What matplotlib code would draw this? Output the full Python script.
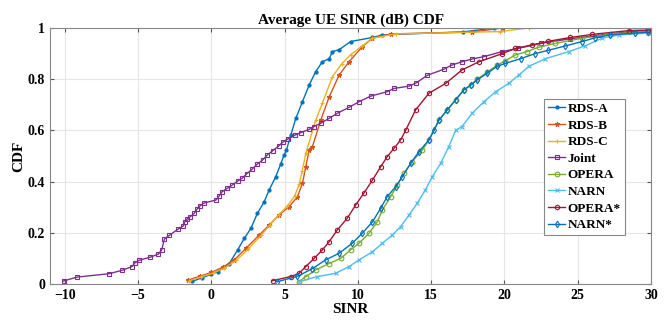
import matplotlib.pyplot as plt

# SINR (dB) / CDF points
rds_a_x = [-1.3, -0.6, 0.0, 0.43, 0.9, 1.23, 1.8, 2.25, 2.7, 3.15, 3.6, 3.95, 4.4, 4.75, 4.97,
           5.13, 5.43, 5.77, 6.22, 6.68, 7.13, 7.58, 8.04, 8.27, 8.72, 9.5, 11.0, 11.67, 17.2, 19.3]
rds_a_y = [0.01, 0.025, 0.038, 0.048, 0.065, 0.08, 0.133, 0.178, 0.217, 0.276, 0.32, 0.367, 0.419,
           0.47, 0.504, 0.523, 0.582, 0.647, 0.712, 0.777, 0.83, 0.868, 0.88, 0.908, 0.915, 0.947,
           0.963, 0.973, 0.985, 1.0]

rds_b_x = [-1.6, -0.8, 0.0, 0.77, 1.57, 2.36, 3.27, 3.95, 4.63, 5.31, 5.88, 6.22, 6.45, 6.68,
           6.9, 7.47, 8.04, 8.72, 9.4, 10.3, 11.0, 12.24, 17.8, 19.85]
rds_b_y = [0.015, 0.03, 0.045, 0.065, 0.094, 0.139, 0.191, 0.23, 0.27, 0.302, 0.341, 0.393,
           0.458, 0.523, 0.536, 0.64, 0.73, 0.816, 0.868, 0.927, 0.96, 0.977, 0.984, 1.0]

rds_c_x = [-1.5, -0.7, 0.1, 0.9, 1.7, 2.5, 3.4, 4.0, 4.6, 5.2, 5.7, 6.0, 6.2, 6.45, 7.13,
           7.58, 8.27, 8.9, 9.5, 10.3, 11.0, 12.58, 19.7, 21.66]
rds_c_y = [0.012, 0.028, 0.042, 0.062, 0.092, 0.135, 0.19, 0.23, 0.27, 0.305, 0.345, 0.39,
           0.44, 0.51, 0.64, 0.706, 0.81, 0.86, 0.895, 0.93, 0.96, 0.977, 0.986, 1.0]

joint_x = [-10.07, -9.15, -7.0, -6.1, -5.4, -5.2, -4.95, -4.15, -3.6, -3.38, -3.2, -2.86, -2.27,
           -1.9, -1.8, -1.63, -1.43, -1.16, -0.95, -0.77, -0.5, 0.32, 0.54, 0.73, 1.1, 1.45, 1.8,
           2.13, 2.43, 2.8, 3.15, 3.5, 3.83, 4.18, 4.6, 4.9, 5.27, 5.72, 6.1, 6.68, 7.0, 7.47,
           8.04, 8.6, 9.4, 10.08, 10.88, 12.0, 12.47, 13.5, 14.0, 14.73, 15.87, 16.4, 17.1, 17.8,
           18.6, 19.85, 20.9, 22.5, 24.5, 26.5, 28.5, 29.8]
joint_y = [0.012, 0.027, 0.04, 0.053, 0.068, 0.083, 0.092, 0.105, 0.117, 0.133, 0.175, 0.19,
           0.214, 0.227, 0.243, 0.255, 0.263, 0.276, 0.294, 0.305, 0.316, 0.328, 0.344, 0.36,
           0.374, 0.387, 0.402, 0.414, 0.431, 0.449, 0.469, 0.484, 0.504, 0.52, 0.539, 0.555,
           0.568, 0.582, 0.591, 0.604, 0.615, 0.628, 0.647, 0.667, 0.69, 0.712, 0.734, 0.751,
           0.764, 0.773, 0.786, 0.815, 0.839, 0.855, 0.868, 0.879, 0.888, 0.908, 0.92, 0.94,
           0.958, 0.972, 0.985, 0.99]

opera_x = [6.0, 6.45, 7.13, 8.04, 8.83, 9.5, 10.08, 10.76, 11.33, 11.67, 12.24, 12.7, 13.15,
           13.7, 14.4, 14.85, 15.53, 16.1, 16.67, 17.23, 17.7, 18.14, 18.82, 19.5, 20.07, 20.75,
           21.55, 22.34, 23.48, 25.3, 27.3, 29.8]
opera_y = [0.009, 0.029, 0.055, 0.08, 0.1, 0.133, 0.159, 0.198, 0.243, 0.289, 0.341, 0.387,
           0.432, 0.478, 0.523, 0.5625, 0.64, 0.68, 0.719, 0.758, 0.777, 0.8, 0.827, 0.855, 0.872,
           0.895, 0.908, 0.925, 0.94, 0.96, 0.977, 0.986]

narn_x = [6.0, 7.24, 8.5, 9.4, 10.08, 11.0, 11.67, 12.35, 12.92, 13.5, 14.05, 14.6, 15.08,
          15.65, 16.2, 16.67, 17.1, 17.8, 18.6, 19.4, 20.3, 20.98, 21.66, 22.8, 24.4, 25.5,
          26.65, 27.8, 29.8]
narn_y = [0.009, 0.029, 0.042, 0.068, 0.094, 0.126, 0.159, 0.191, 0.224, 0.27, 0.315, 0.367,
          0.419, 0.471, 0.536, 0.6, 0.615, 0.667, 0.712, 0.751, 0.784, 0.816, 0.85, 0.88, 0.908,
          0.93, 0.96, 0.973, 0.98]

opera_s_x = [4.18, 5.43, 6.0, 6.45, 7.02, 7.58, 8.04, 8.6, 9.28, 9.86, 10.4, 11.0, 11.56, 12.0,
             12.47, 12.92, 13.26, 13.94, 14.85, 16.0, 17.1, 18.26, 19.85, 20.75, 21.9, 23.0,
             24.5, 26.0, 28.5, 29.8]
opera_s_y = [0.013, 0.029, 0.042, 0.068, 0.1, 0.133, 0.165, 0.211, 0.257, 0.309, 0.354, 0.406,
             0.458, 0.497, 0.53, 0.5625, 0.6, 0.68, 0.745, 0.784, 0.836, 0.868, 0.9, 0.92,
             0.934, 0.948, 0.963, 0.975, 0.99, 0.992]

narn_s_x = [4.5, 5.88, 6.9, 7.8, 8.72, 9.62, 10.3, 11.0, 11.56, 12.0, 12.58, 13.03, 13.6, 14.17,
            14.85, 15.2, 15.53, 16.1, 16.67, 17.23, 17.7, 18.14, 18.82, 19.5, 20.07, 21.1, 22.1,
            23.0, 24.16, 25.3, 26.2, 27.2, 28.9, 29.8]
narn_s_y = [0.009, 0.03, 0.06, 0.094, 0.12, 0.159, 0.198, 0.243, 0.296, 0.341, 0.38, 0.419,
            0.471, 0.517, 0.5625, 0.6, 0.64, 0.68, 0.719, 0.758, 0.777, 0.797, 0.823, 0.85,
            0.862, 0.88, 0.9, 0.913, 0.93, 0.947, 0.962, 0.973, 0.98, 0.984]

series = [
    ("RDS-A", rds_a_x, rds_a_y, "#0072BD", "."),
    ("RDS-B", rds_b_x, rds_b_y, "#D95319", "*"),
    ("RDS-C", rds_c_x, rds_c_y, "#EDB120", "+"),
    ("Joint", joint_x, joint_y, "#7E2F8E", "s"),
    ("OPERA", opera_x, opera_y, "#77AC30", "o"),
    ("NARN", narn_x, narn_y, "#4DBEEE", "x"),
    ("OPERA*", opera_s_x, opera_s_y, "#A2142F", "h"),
    ("NARN*", narn_s_x, narn_s_y, "#0072BD", "d"),
]

plt.rcParams['font.family'] = ['Liberation Serif', 'DejaVu Serif']
plt.rcParams['font.weight'] = 'bold'

fig = plt.figure(figsize=(6.72, 3.24), dpi=100)
ax = fig.add_axes([50 / 672, 40 / 324, 601 / 672, 256 / 324])

for name, xs, ys, col, mk in series:
    filled = mk in (".", "*", "+", "x")
    ax.plot(xs, ys, color=col, marker=mk, markersize=3.4 if mk != "." else 4.5,
            markerfacecolor=col if filled else "none", markeredgewidth=0.8,
            linewidth=1.0, label=name)

ax.set_xlim(-11, 30)
ax.set_ylim(0, 1)
ax.set_xticks(range(-10, 31, 5))
ax.set_yticks([0, 0.2, 0.4, 0.6, 0.8, 1])
ax.set_yticklabels(["0", "0.2", "0.4", "0.6", "0.8", "1"])
ax.grid(True, color="#e6e6e6", linewidth=0.8)
ax.set_axisbelow(True)
ax.tick_params(direction="in", labelsize=10, length=3, color="#555555",
               top=True, right=True)
for sp in ax.spines.values():
    sp.set_color("#888888")
    sp.set_linewidth(0.8)

ax.set_title("Average UE SINR (dB) CDF", fontsize=11, fontweight="bold", pad=3)
ax.set_xlabel("SINR", fontsize=11, fontweight="bold", labelpad=1)
ax.set_ylabel("CDF", fontsize=11, fontweight="bold", labelpad=2)

leg = ax.legend(loc="upper left", bbox_to_anchor=(0.822, 0.723), fontsize=9.5,
                handlelength=1.3, handletextpad=0.2, borderpad=0.3, labelspacing=0.33,
                fancybox=False, framealpha=1, edgecolor="#888888", borderaxespad=0)
leg.get_frame().set_linewidth(0.8)

fig.savefig("out.png", dpi=100)
